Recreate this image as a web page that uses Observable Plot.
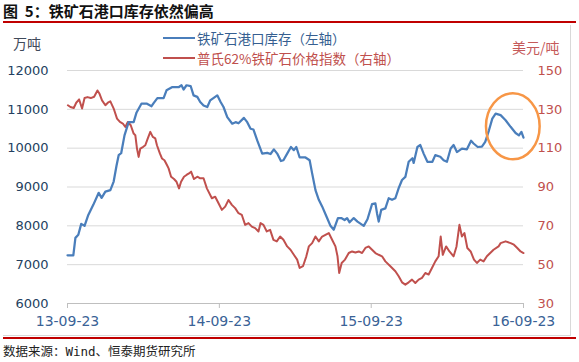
<!DOCTYPE html>
<html><head><meta charset="utf-8">
<script src="https://cdn.jsdelivr.net/npm/d3@7"></script>
<script src="https://cdn.jsdelivr.net/npm/@observablehq/plot@0.6"></script>
<style>
body{margin:0;background:#fff;}
#wrap{position:relative;width:579px;height:362px;overflow:hidden;font-family:"Noto Sans CJK SC","Noto Sans",sans-serif;background:#fff;}
#title{position:absolute;left:3px;top:0px;font-size:15px;font-weight:700;line-height:21px;color:#111;white-space:pre;}
.redline{position:absolute;left:3px;width:573px;height:2px;background:#C00000;}
#chart{position:absolute;left:0;top:25px;}
.unit{position:absolute;font-size:14px;line-height:18px;white-space:nowrap;}
.leg{position:absolute;left:163px;height:18px;display:flex;align-items:center;font-size:13.5px;white-space:nowrap;}
.leg .sw{display:inline-block;width:32px;height:2px;margin-right:2px;}
#caption{position:absolute;left:3px;top:343px;font-size:12.5px;line-height:18px;color:#222;font-family:"DejaVu Sans Mono","Noto Sans CJK SC",monospace;white-space:nowrap;}
#borderR{position:absolute;left:570px;top:25px;width:1px;height:311px;background:#D9D9D9;}
#borderB{position:absolute;left:3px;top:335px;width:567px;height:1px;background:#D9D9D9;}
</style></head>
<body>
<div id="wrap">
  <div id="title">图  5：铁矿石港口库存依然偏高</div>
  <div class="redline" style="top:21px"></div>
  <div id="borderR"></div>
  <div id="borderB"></div>
  <div id="chart"></div>
  <div class="unit" style="left:13px;top:34px;color:#3F4A5A">万吨</div>
  <div class="unit" style="left:512px;top:38px;color:#C55A5A">美元/吨</div>
  <div class="leg" style="top:29px"><span class="sw" style="background:#4A7EBB"></span><span style="color:#365F91">铁矿石港口库存（左轴）</span></div>
  <div class="leg" style="top:49px"><span class="sw" style="background:#C0504D"></span><span style="color:#C0504D">普氏62%铁矿石价格指数（右轴）</span></div>
  <div class="redline" style="top:337px"></div>
  <div id="caption">数据来源：Wind、恒泰期货研究所</div>
</div>
<script>
// 铁矿石港口库存 (万吨), weekly
const invDates = ["2013-09-23","2013-10-07","2013-10-12","2013-10-19","2013-10-26","2013-11-03","2013-11-12","2013-11-24","2013-12-07","2013-12-14","2013-12-23","2014-01-04","2014-01-12","2014-01-19","2014-01-24","2014-01-30","2014-02-07","2014-02-17","2014-03-01","2014-03-08","2014-03-20","2014-04-01","2014-04-13","2014-04-18","2014-04-27","2014-05-12","2014-05-19","2014-06-01","2014-06-17","2014-06-24","2014-06-29","2014-07-06","2014-07-16","2014-07-23","2014-08-01","2014-08-08","2014-08-16","2014-08-25","2014-09-01","2014-09-18","2014-09-26","2014-10-03","2014-10-12","2014-10-24","2014-11-01","2014-11-08","2014-11-21","2014-11-29","2014-12-07","2014-12-14","2014-12-23","2015-01-04","2015-01-16","2015-01-24","2015-02-01","2015-02-09","2015-02-18","2015-02-24","2015-03-05","2015-03-14","2015-03-21","2015-03-27","2015-04-04","2015-04-18","2015-04-28","2015-05-04","2015-05-12","2015-05-20","2015-05-28","2015-06-09","2015-06-17","2015-06-25","2015-07-05","2015-07-13","2015-07-21","2015-07-27","2015-08-02","2015-08-12","2015-08-21","2015-09-05","2015-09-14","2015-09-25","2015-10-03","2015-10-07","2015-10-11","2015-10-17","2015-10-27","2015-11-04","2015-11-12","2015-11-20","2015-11-28","2015-12-06","2015-12-14","2015-12-22","2015-12-31","2016-01-03","2016-01-12","2016-01-19","2016-01-27","2016-02-05","2016-02-17","2016-02-24","2016-03-07","2016-03-15","2016-03-23","2016-04-01","2016-04-08","2016-04-16","2016-04-28","2016-05-10","2016-05-20","2016-05-26","2016-06-05","2016-06-15","2016-06-23","2016-07-02","2016-07-10","2016-07-18","2016-07-30","2016-08-11","2016-08-23","2016-09-04","2016-09-12","2016-09-18","2016-09-23"];
const invValues = [7240,7240,7690,7770,8050,8000,8280,8540,8850,8720,8880,8920,9140,9560,9820,9870,10330,10670,10670,10920,11150,11150,11080,11160,11290,11290,11490,11570,11570,11620,11510,11620,11600,11360,11320,11190,11100,11060,11230,11360,11190,11060,10800,10630,10670,10640,10780,10670,10500,10480,10200,9860,9880,9850,9970,9860,9670,9690,9860,10030,9950,10030,9760,9760,9690,9350,8920,8670,8500,8200,8000,7900,8200,8200,8150,8200,8090,8200,8110,8000,8170,8560,8580,8320,8110,8410,8450,8710,8670,8710,8970,9180,9260,9650,9740,9620,10030,10080,9860,9650,9650,9820,9780,9690,9650,9990,10080,9900,9990,9970,10190,10120,10030,10040,10160,10460,10760,10890,10850,10720,10550,10390,10330,10420,10270];

// 普氏62%铁矿石价格指数 (美元/吨)
const priceDates = ["2013-09-24","2013-09-30","2013-10-08","2013-10-14","2013-10-21","2013-10-28","2013-11-03","2013-11-10","2013-11-18","2013-11-26","2013-12-04","2013-12-09","2013-12-15","2013-12-23","2013-12-29","2014-01-04","2014-01-12","2014-01-20","2014-01-27","2014-02-03","2014-02-09","2014-02-15","2014-02-22","2014-03-01","2014-03-05","2014-03-09","2014-03-13","2014-03-17","2014-03-24","2014-03-29","2014-04-04","2014-04-10","2014-04-16","2014-04-22","2014-04-26","2014-05-03","2014-05-08","2014-05-14","2014-05-20","2014-05-24","2014-05-30","2014-06-06","2014-06-12","2014-06-18","2014-06-23","2014-06-30","2014-07-06","2014-07-12","2014-07-17","2014-07-24","2014-08-01","2014-08-08","2014-08-16","2014-08-24","2014-09-05","2014-09-13","2014-09-21","2014-09-29","2014-10-07","2014-10-15","2014-10-23","2014-10-31","2014-11-08","2014-11-16","2014-11-24","2014-12-02","2014-12-10","2014-12-18","2014-12-26","2014-12-31","2015-01-07","2015-01-15","2015-01-23","2015-01-31","2015-02-08","2015-02-16","2015-02-24","2015-03-05","2015-03-13","2015-03-21","2015-03-29","2015-04-04","2015-04-12","2015-04-20","2015-04-26","2015-05-04","2015-05-12","2015-05-20","2015-05-28","2015-06-05","2015-06-13","2015-06-21","2015-06-29","2015-07-04","2015-07-08","2015-07-14","2015-07-22","2015-07-31","2015-08-08","2015-08-16","2015-08-24","2015-09-01","2015-09-09","2015-09-17","2015-09-25","2015-10-03","2015-10-11","2015-10-19","2015-10-27","2015-11-08","2015-11-20","2015-11-28","2015-12-06","2015-12-14","2015-12-22","2015-12-30","2016-01-07","2016-01-15","2016-01-23","2016-01-31","2016-02-08","2016-02-16","2016-02-24","2016-03-03","2016-03-08","2016-03-13","2016-03-21","2016-03-29","2016-04-08","2016-04-15","2016-04-22","2016-04-28","2016-05-04","2016-05-11","2016-05-19","2016-05-27","2016-06-03","2016-06-11","2016-06-19","2016-06-27","2016-07-05","2016-07-13","2016-07-25","2016-07-30","2016-08-11","2016-08-23","2016-08-31","2016-09-08","2016-09-16","2016-09-23"];
const priceValues = [132.1,131.2,130.7,133.4,135.1,130.4,135.8,136.3,135.8,136.5,139.7,138,134.6,132.1,133.4,134.1,130.4,125.2,123.5,122.7,120.9,123.5,121.8,117.5,116.7,109.8,105.5,109.8,110.7,111.5,115,118.4,115.8,115,111.5,107.3,104.7,103.8,101.3,99.6,95.3,94.1,92.7,89.3,92.7,95.3,96.2,97,97.9,94.1,95.3,94.5,94.5,89.3,84.2,85,81.6,78.2,79.9,83.3,80.8,79.1,76.5,75.6,70.5,71.4,69.6,68.8,67.1,71.4,70.5,67.1,67.9,62.8,62,64.5,62.8,59.4,57.7,55.1,52.6,48.3,49.2,54.3,59.4,61.1,64.5,62,64.5,65.4,66.3,62.8,59.4,54.3,45.7,50.9,52.6,56,56.8,56.3,56.8,56,58.6,59.4,57.7,56,55.1,54.3,51.7,49.2,46.6,44,40.9,39.7,40.9,42.3,40.6,42.3,43.2,45.7,44.9,48.3,51.7,54.3,64.5,55.1,59.4,56.8,54.3,59.4,70.5,64.5,66.3,58.6,56.8,52.6,50.9,52.6,51.7,54.3,56,57.7,59.4,61.1,62,61.1,60.3,58.6,56.8,56];

const leftTicks = [6000,7000,8000,9000,10000,11000,12000];
const rightTicks = [30,50,70,90,110,130,150];
const xTickDates = ["2013-09-23","2014-09-23","2015-09-23","2016-09-23"];
const xDomain = ["2013-09-23","2016-09-23"];
// highlight ellipse annotation (date range, inventory range)
const ellipseDates = ["2016-06-26","2016-11-02"];
const ellipseValues = [9700,11400];

const parse = s => new Date(s + "T00:00:00Z");
const inv = invDates.map((d,i) => ({date: parse(d), value: invValues[i]}));
const price = priceDates.map((d,i) => ({date: parse(d), value: priceValues[i]}));
// map right axis (30..150) onto left axis (6000..12000)
const toLeft = v => 6000 + (v - 30) * 50;
const fromLeft = v => Math.round((v - 6000) / 50 + 30);

const chart = Plot.plot({
  width: 579, height: 311,
  marginLeft: 67, marginRight: 56, marginTop: 45, marginBottom: 33,
  x: {type: "utc", domain: xDomain.map(parse)},
  y: {domain: [6000, 12000]},
  style: {fontFamily: "DejaVu Sans", background: "transparent"},
  marks: [
    Plot.ruleY(leftTicks.slice(1), {stroke: "#D9D9D9", strokeWidth: 1}),
    Plot.ruleY([6000], {stroke: "#BFBFBF", strokeWidth: 1}),
    Plot.axisY(leftTicks, {anchor: "left", tickSize: 0, tickPadding: 19, fontSize: 13, color: "#243F60", tickFormat: v => String(v), label: null}),
    Plot.axisY(rightTicks.map(toLeft), {anchor: "right", tickSize: 0, tickPadding: 14, fontSize: 13, color: "#C0504D", tickFormat: v => String(fromLeft(v)), label: null}),
    Plot.axisX(xTickDates.map(parse), {tickSize: 5, tickFormat: () => "", color: "#BFBFBF", label: null}),
    Plot.axisX(xTickDates.map(parse), {tickSize: 0, tickPadding: 13, fontSize: 14, color: "#3A6296", tickFormat: d3.utcFormat("%y-%m-%d"), label: null}),
    Plot.line(price, {x: "date", y: d => toLeft(d.value), stroke: "#C0504D", strokeWidth: 2}),
    Plot.line(inv, {x: "date", y: "value", stroke: "#4A7EBB", strokeWidth: 2.25})
  ]
});

const sx = chart.scale("x"), sy = chart.scale("y");
const x0 = sx.apply(parse(ellipseDates[0])), x1 = sx.apply(parse(ellipseDates[1]));
const y0 = sy.apply(ellipseValues[0]), y1 = sy.apply(ellipseValues[1]);
d3.select(chart).append("ellipse")
  .attr("cx", (x0 + x1) / 2).attr("cy", (y0 + y1) / 2)
  .attr("rx", Math.abs(x1 - x0) / 2).attr("ry", Math.abs(y0 - y1) / 2)
  .attr("fill", "none").attr("stroke", "#F79646").attr("stroke-width", 2.5);

document.getElementById("chart").appendChild(chart);
</script>
</body></html>
